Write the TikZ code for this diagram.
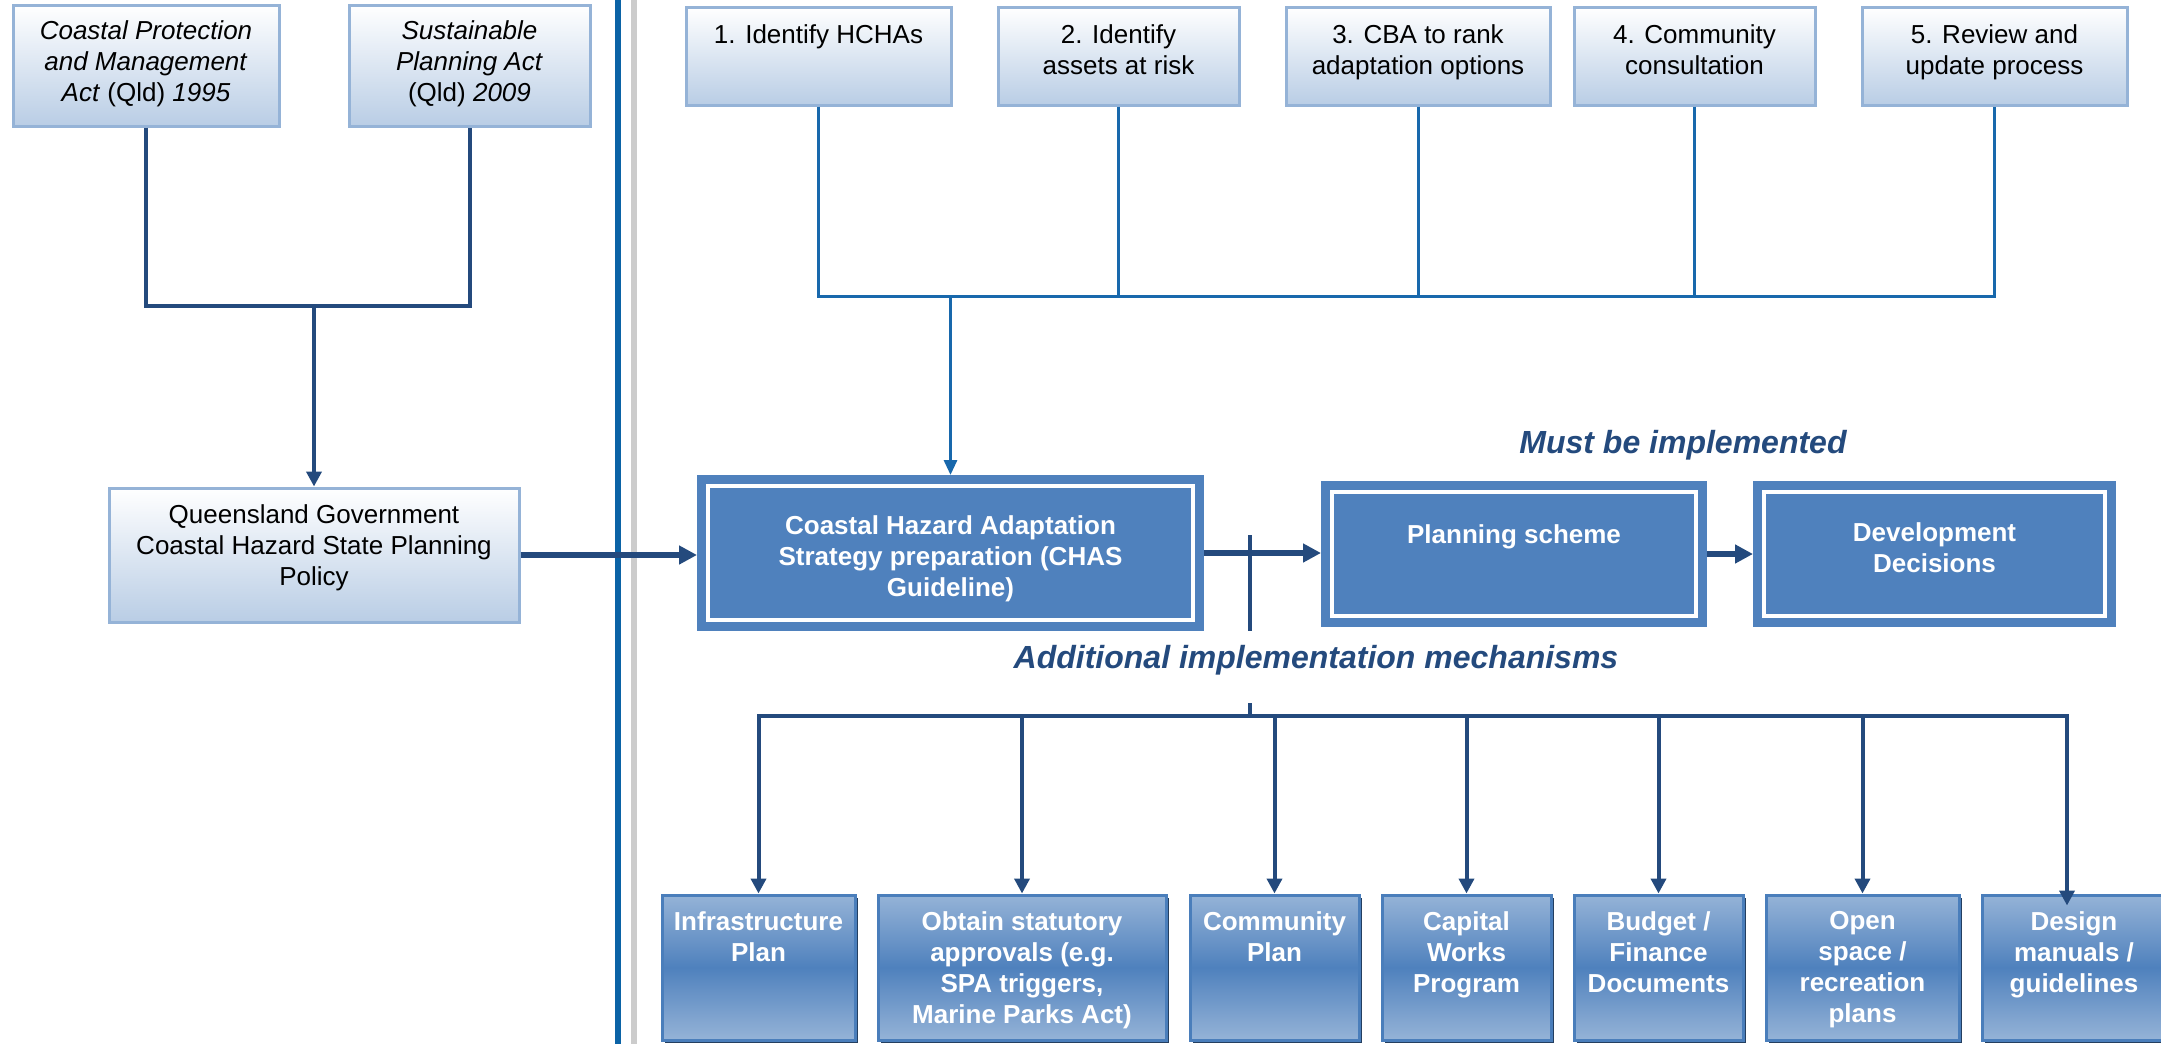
\documentclass[tikz,border=0pt]{standalone}
\usepackage{fontspec}
\setmainfont{Liberation Sans}
\usetikzlibrary{positioning, arrows.meta, shadows}
\definecolor{linenavy}{HTML}{244A7D}
\definecolor{stepblue}{HTML}{1868AC}
\definecolor{sepblue}{HTML}{0B63A6}
\definecolor{sepgrey}{HTML}{CCCCCC}
\definecolor{paleedge}{HTML}{95B3D7}
\definecolor{palefill}{HTML}{B9CDE5}
\definecolor{chasblue}{HTML}{4F81BD}
\definecolor{mechedge}{HTML}{4A7EBB}
\definecolor{mechshade}{HTML}{243F60}
\newcommand{\boxfont}{\fontsize{26}{31}\selectfont}
\newcommand{\notefont}{\fontsize{32}{38}\selectfont\bfseries\itshape}

\tikzset{
  palebox/.style={draw=paleedge, line width=3pt, top color=white, bottom color=palefill, inner sep=0pt},
  mainbox/.style={draw=chasblue, fill=chasblue, line width=9pt, double=white, double distance=4pt, inner sep=0pt, outer sep=11pt},
  mechbox/.style={draw=mechedge, line width=3pt, top color=paleedge, bottom color=paleedge, middle color=chasblue, inner sep=0pt,
    drop shadow={shadow xshift=3pt, shadow yshift=-3pt, opacity=1, fill=mechshade}},
  boxtext/.style={anchor=north, inner sep=0pt, align=center, font=\boxfont},
  whitetext/.style={boxtext, text=white, font=\boxfont\bfseries},
  note/.style={text=linenavy, font=\notefont},
  lawline/.style={draw=linenavy, line width=4pt},
  lawarrow/.style={lawline, -{Triangle[length=15pt, width=15pt]}},
  stepline/.style={draw=stepblue, line width=3pt},
  steparrow/.style={stepline, -{Triangle[length=15pt, width=13pt]}},
  flowarrow/.style={draw=linenavy, line width=5.5pt, -{Triangle[length=18pt, width=18pt]}}
}

\begin{document}
\begin{tikzpicture}[x=1pt, y=-1pt]
\fill[white] (0,0) rectangle (2161,1044);
\useasboundingbox (0,0) rectangle (2161,1044);
\draw[sepblue, line width=6pt] (618,0) -- (618,1044);
\draw[sepgrey, line width=6pt] (634,0) -- (634,1044);

\node[palebox, minimum width=266pt, minimum height=121pt] (cpma) at (146,65.5) {};
\node[boxtext] (cpma-t) at ([yshift=-17pt]cpma.north) {\textit{Coastal Protection}\\\textit{and Management}\\\textit{Act} (Qld) \textit{1995}};
\node[palebox, minimum width=241pt, minimum height=121pt] (spa) at (469.5,65.5) {};
\node[boxtext] (spa-t) at ([yshift=-17pt]spa.north) {\textit{Sustainable}\\\textit{Planning Act}\\(Qld) \textit{2009}};
\node[palebox, minimum width=410pt, minimum height=134pt] (qspp) at (314,555) {};
\node[boxtext] (qspp-t) at ([yshift=-18pt]qspp.north) {Queensland Government\\Coastal Hazard State Planning\\Policy};

\node[palebox, minimum width=265pt, minimum height=98pt] (hcha) at (818.5,56) {};
\node[boxtext] (hcha-t) at ([yshift=-19pt]hcha.north) {1. Identify HCHAs};
\node[palebox, minimum width=241pt, minimum height=98pt] (assets) at (1118.5,56) {};
\node[boxtext] (assets-t) at ([yshift=-19pt]assets.north) {2. Identify\\assets at risk};
\node[palebox, minimum width=264pt, minimum height=98pt] (cba) at (1418,56) {};
\node[boxtext] (cba-t) at ([yshift=-19pt]cba.north) {3. CBA to rank\\adaptation options};
\node[palebox, minimum width=241pt, minimum height=98pt] (consult) at (1694.5,56) {};
\node[boxtext] (consult-t) at ([yshift=-19pt]consult.north) {4. Community\\consultation};
\node[palebox, minimum width=265pt, minimum height=98pt] (review) at (1994.5,56) {};
\node[boxtext] (review-t) at ([yshift=-19pt]review.north) {5. Review and\\update process};

\node[mainbox, minimum width=485pt, minimum height=134pt] (chas) at (950.5,553) {};
\node[whitetext] (chas-t) at ([yshift=-40pt]chas.north) {Coastal Hazard Adaptation\\Strategy preparation (CHAS\\Guideline)};
\node[mainbox, minimum width=364pt, minimum height=124pt] (plan) at (1514,554) {};
\node[whitetext] (plan-t) at ([yshift=-43pt]plan.north) {Planning scheme};
\node[mainbox, minimum width=341pt, minimum height=124pt] (dev) at (1934.5,554) {};
\node[whitetext] (dev-t) at ([yshift=-41pt]dev.north) {Development\\Decisions};

\node[note] (must) at (1683,445) {Must be implemented};
\node[note] (addl) at (1316,660) {Additional implementation mechanisms};

\node[mechbox, minimum width=193pt, minimum height=145pt] (infra) at (758.5,967.5) {};
\node[whitetext] (infra-t) at ([yshift=-18pt]infra.north) {Infrastructure\\Plan};
\node[mechbox, minimum width=288pt, minimum height=145pt] (approvals) at (1022,967.5) {};
\node[whitetext] (approvals-t) at ([yshift=-18pt]approvals.north) {Obtain statutory\\approvals (e.g.\\SPA triggers,\\Marine Parks Act)};
\node[mechbox, minimum width=169pt, minimum height=145pt] (commplan) at (1274.5,967.5) {};
\node[whitetext] (commplan-t) at ([yshift=-18pt]commplan.north) {Community\\Plan};
\node[mechbox, minimum width=169pt, minimum height=145pt] (capworks) at (1466.5,967.5) {};
\node[whitetext] (capworks-t) at ([yshift=-18pt]capworks.north) {Capital\\Works\\Program};
\node[mechbox, minimum width=169pt, minimum height=145pt] (budget) at (1658.5,967.5) {};
\node[whitetext] (budget-t) at ([yshift=-18pt]budget.north) {Budget /\\Finance\\Documents};
\node[mechbox, minimum width=193pt, minimum height=145pt] (openspace) at (1862.5,967.5) {};
\node[whitetext] (openspace-t) at ([yshift=-18pt]openspace.north) {Open\\space /\\recreation\\plans};
\node[mechbox, minimum width=184pt, minimum height=145pt] (design) at (2074,967.5) {};
\node[whitetext] (design-t) at ([yshift=-18pt]design.north) {Design\\manuals /\\guidelines};

\coordinate (lawjoin) at (314,306);
\draw[lawline] (cpma.south) |- (lawjoin) -| (spa.south);
\draw[lawarrow] (lawjoin) -- (qspp.north);

\coordinate (stepjoin) at (950.5,296);
\draw[stepline] (hcha.south) |- (review.south |- stepjoin) -- (review.south);
\foreach \n in {assets,cba,consult}
  \draw[stepline] (\n.south) -- (\n.south |- stepjoin);
\draw[steparrow] (stepjoin) -- (chas.north);

\draw[flowarrow] (qspp.east) -- (qspp.east -| chas.west);
\draw[flowarrow] (chas.east) -- (chas.east -| plan.west);
\draw[flowarrow] (plan.east) -- (dev.west);

\coordinate (tap) at (1250,535);
\coordinate (bustop) at (1250,703);
\coordinate (bus) at (1250,716);
\coordinate (designtap) at ([xshift=-7pt]design.north);
\draw[lawline] (tap) -- (tap |- chas.south);
\draw[lawline] (bustop) -- (bus);
\draw[lawline, line cap=rect] (infra.north |- bus) -- (designtap |- bus);
\foreach \n in {infra,approvals,commplan,capworks,budget,openspace}
  \draw[lawarrow] (\n.north |- bus) -- (\n.north);
\draw[lawarrow, shorten >=-12pt] (designtap |- bus) -- (designtap);
\end{tikzpicture}
\end{document}
